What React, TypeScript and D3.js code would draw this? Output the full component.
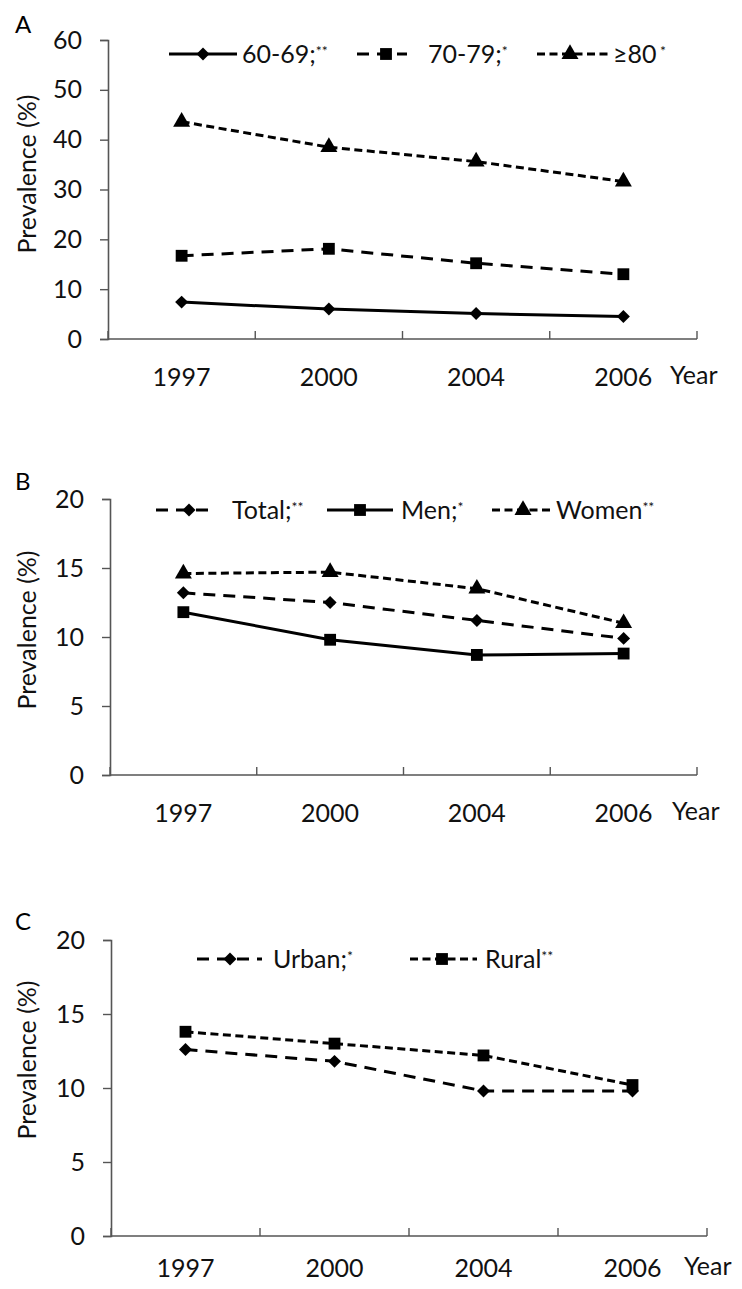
import * as d3 from "d3";
import React, { useEffect, useRef } from "react";

const years = ["1997", "2000", "2004", "2006"];

// panel A: age groups
const ageA = [7.4, 6.0, 5.1, 4.5];
const ageB = [16.7, 18.1, 15.2, 13.0];
const ageC = [43.6, 38.5, 35.6, 31.6];
const ticksA = [0, 10, 20, 30, 40, 50, 60];

// panel B: sex
const total = [13.2, 12.5, 11.2, 9.9];
const men = [11.8, 9.8, 8.7, 8.8];
const women = [14.6, 14.7, 13.5, 11.0];
const ticksB = [0, 5, 10, 15, 20];

// panel C: residence
const urban = [12.6, 11.8, 9.8, 9.8];
const rural = [13.8, 13.0, 12.2, 10.2];
const ticksC = [0, 5, 10, 15, 20];

const FONT = "Lato, 'Open Sans', sans-serif";
const LONG = "12,8";
const SHORT = "8,4.5";

const panels = [
  {
    letter: "A", letterY: 25, left: 108, right: 697, y0: 339, yTop: 40, max: 60, ticks: ticksA,
    labelY: 386, yearX: 670, titleY: 174, legendY: 54,
    series: [
      { values: ageA, dash: null, marker: "diamond", name: "60-69;", sup: "**", lx0: 169, lx1: 237, mx: 203, tx: 242 },
      { values: ageB, dash: LONG, marker: "square", name: "70-79;", sup: "*", lx0: 357, lx1: 407, mx: 386, tx: 428 },
      { values: ageC, dash: SHORT, marker: "triangle", name: "\u226580", sup: " *", lx0: 537, lx1: 608, mx: 570, tx: 613 },
    ],
  },
  {
    letter: "B", letterY: 482, left: 110, right: 697, y0: 775, yTop: 499, max: 20, ticks: ticksB,
    labelY: 822, yearX: 672, titleY: 630, legendY: 510,
    series: [
      { values: total, dash: LONG, marker: "diamond", name: "Total;", sup: "**", lx0: 156, lx1: 208, mx: 189, tx: 232 },
      { values: men, dash: null, marker: "square", name: "Men;", sup: "*", lx0: 327, lx1: 393, mx: 360, tx: 401 },
      { values: women, dash: SHORT, marker: "triangle", name: "Women", sup: "**", lx0: 492, lx1: 554, mx: 523, tx: 556 },
    ],
  },
  {
    letter: "C", letterY: 922, left: 111, right: 707, y0: 1236, yTop: 940, max: 20, ticks: ticksC,
    labelY: 1277, yearX: 684, titleY: 1060, legendY: 959,
    series: [
      { values: urban, dash: LONG, marker: "diamond", name: "Urban;", sup: "*", lx0: 197, lx1: 262, mx: 230, tx: 273 },
      { values: rural, dash: SHORT, marker: "square", name: "Rural", sup: "**", lx0: 410, lx1: 477, mx: 442, tx: 485 },
    ],
  },
];

const markerPath = (kind: string) => {
  if (kind === "diamond") return d3.symbol(d3.symbolSquare, 84)();
  if (kind === "square") return d3.symbol(d3.symbolSquare, 140)();
  return d3.symbol(d3.symbolTriangle, 125)();
};

const App = () => {
  const ref = useRef<HTMLDivElement>(null);

  useEffect(() => {
    const width = 742;
    const height = 1289;
    const svg = d3.create("svg")
      .attr("width", width)
      .attr("height", height)
      .style("display", "block")
      .style("font-family", FONT);

    svg.append("rect").attr("width", width).attr("height", height).attr("fill", "#fff");

    panels.forEach(p => {
      const g = svg.append("g");
      const x = d3.scaleBand().domain(years).range([p.left, p.right]);
      const y = d3.scaleLinear().domain([0, p.max]).range([p.y0, p.yTop]);

      // panel letter
      g.append("text")
        .attr("x", 15)
        .attr("y", p.letterY)
        .attr("dy", "0.35em")
        .style("font-size", "24px")
        .text(p.letter);

      // y axis
      const ya = g.append("g")
        .attr("transform", `translate(${p.left},0)`)
        .call(d3.axisLeft(y).tickValues(p.ticks).tickSize(8).tickPadding(18));
      ya.select(".domain").attr("stroke", "#555").attr("stroke-width", 1.6);
      ya.selectAll(".tick line").attr("stroke", "#555").attr("stroke-width", 1.4);
      ya.selectAll(".tick text")
        .style("font-size", "25px")
        .style("font-family", FONT)
        .attr("fill", "#111");

      // x axis: band boundaries with inward ticks
      g.append("line")
        .attr("x1", p.left).attr("x2", p.right)
        .attr("y1", p.y0).attr("y2", p.y0)
        .attr("stroke", "#555").attr("stroke-width", 1.6);
      const bounds = years.map(d => x(d) as number).concat([p.right]);
      g.selectAll(".xt").data(bounds).join("line")
        .attr("x1", d => d).attr("x2", d => d)
        .attr("y1", p.y0).attr("y2", p.y0 - 8)
        .attr("stroke", "#555").attr("stroke-width", 1.4);

      g.selectAll(".xl").data(years).join("text")
        .attr("x", d => (x(d) as number) + x.bandwidth() / 2)
        .attr("y", p.labelY)
        .attr("text-anchor", "middle")
        .style("font-size", "25px")
        .attr("fill", "#111")
        .text(d => d);

      g.append("text")
        .attr("x", p.yearX)
        .attr("y", p.labelY - 2)
        .style("font-size", "25px")
        .attr("fill", "#111")
        .text("Year");

      // y title
      g.append("text")
        .attr("transform", `translate(${27},${p.titleY}) rotate(-90)`)
        .attr("text-anchor", "middle")
        .attr("dy", "0.35em")
        .style("font-size", "25px")
        .attr("fill", "#111")
        .text("Prevalence (%)");

      // series
      const line = d3.line<number>()
        .x((_, i) => (x(years[i]) as number) + x.bandwidth() / 2)
        .y(d => y(d));

      p.series.forEach(s => {
        g.append("path")
          .attr("d", line(s.values))
          .attr("fill", "none")
          .attr("stroke", "#000")
          .attr("stroke-width", 3)
          .attr("stroke-dasharray", s.dash || null);

        g.selectAll(null).data(s.values).join("path")
          .attr("d", markerPath(s.marker))
          .attr("transform", (d, i) =>
            `translate(${(x(years[i]) as number) + x.bandwidth() / 2},${y(d)})` +
            (s.marker === "diamond" ? " rotate(45)" : ""))
          .attr("fill", "#000");

        // legend
        g.append("line")
          .attr("x1", s.lx0).attr("x2", s.lx1)
          .attr("y1", p.legendY).attr("y2", p.legendY)
          .attr("stroke", "#000")
          .attr("stroke-width", 3)
          .attr("stroke-dasharray", s.dash || null);
        g.append("path")
          .attr("d", markerPath(s.marker))
          .attr("transform", `translate(${s.mx},${p.legendY})` + (s.marker === "diamond" ? " rotate(45)" : ""))
          .attr("fill", "#000");
        const t = g.append("text")
          .attr("x", s.tx)
          .attr("y", p.legendY)
          .attr("dy", "0.35em")
          .style("font-size", "25px")
          .attr("fill", "#111");
        t.append("tspan").text(s.name);
        t.append("tspan")
          .attr("dy", "-0.5em")
          .style("font-size", "14px")
          .text(s.sup);
      });
    });

    if (ref.current) {
      ref.current.innerHTML = "";
      ref.current.appendChild(svg.node() as SVGSVGElement);
    }
  });

  return <div ref={ref} style={{ margin: -8 }}></div>;
};

export default App;
